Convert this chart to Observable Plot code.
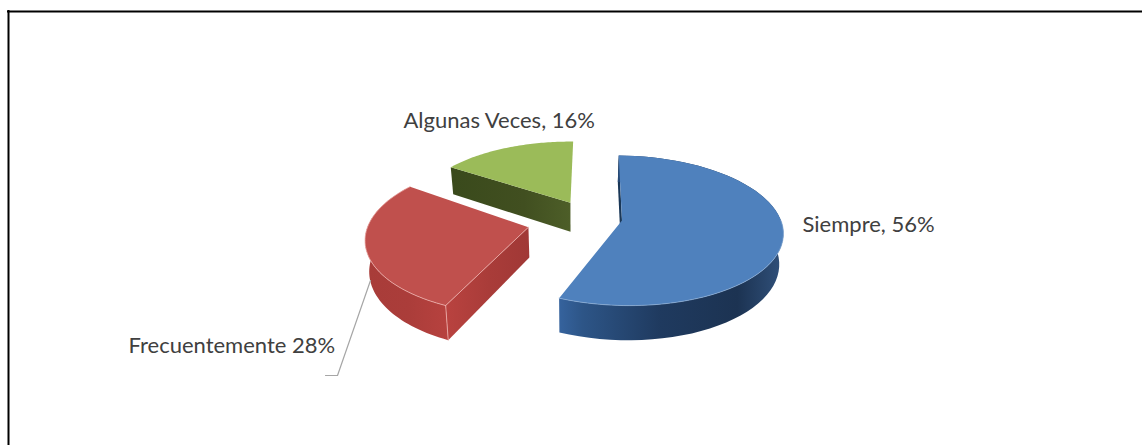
<!DOCTYPE html>
<html>
<head>
<meta charset="utf-8">
<script src="https://cdn.jsdelivr.net/npm/d3@7"></script>
<script src="https://cdn.jsdelivr.net/npm/@observablehq/plot@0.6"></script>
<style>html,body{margin:0;padding:0;background:#fff}svg{display:block}</style>
</head>
<body>
<div id="chart"></div>
<script>
const categories = ["Siempre", "Frecuentemente", "Algunas Veces"];
const shares = [56, 28, 16];
const labels = ["Siempre, 56%", "Frecuentemente 28%", "Algunas Veces, 16%"];
const topColors = ["#4f81bd", "#c0504d", "#9bbb59"];
const rimColors = ["#8fb0d8", "#eeb0ac", "#a9c46f"];

// Scene set-up of the tilted, exploded pie
const center = {x: 573, y: 220};
const radius = 159, tilt = 73.7, persp = 0.134, depth = 30;
const explode = [[0.305, 0.0], [-0.28, 0.09], [-0.02, -0.25]];
const turn = [1, 3, 1].map(d => d * Math.PI / 180);

const project = (X, Z, down = 0) => {
  const s = 1 / (1 - persp * Z);
  const f = 1 - 0.02 * down;
  return {
    x: center.x + X * radius * s * f,
    y: center.y + Z * tilt * s + down * depth * s
  };
};
const total = d3.sum(shares);
let acc = 0;
const slices = shares.map((v, i) => {
  const a0 = acc / total * 2 * Math.PI + turn[i]; acc += v;
  const a1 = acc / total * 2 * Math.PI + turn[i];
  return {i, a0, a1, ox: explode[i][0], oz: explode[i][1]};
});
const rimPoint = (s, a, down = 0) => project(s.ox + Math.sin(a), s.oz - Math.cos(a), down);
const apex = (s, down = 0) => project(s.ox, s.oz, down);
const arc = (s, a0, a1, down = 0) => d3.range(0, 61).map(t => rimPoint(s, a0 + (a1 - a0) * t / 60, down));

const topFace = s => [apex(s), ...arc(s, s.a0, s.a1), apex(s)];
const outerWall = s => [...arc(s, s.a0, s.a1), ...arc(s, s.a1, s.a0, 1)];
const radialWall = (s, a) => [apex(s), rimPoint(s, a), rimPoint(s, a, 1), apex(s, 1)];

const [blue, red, green] = slices;

const gradients = {
  blueWall: [[560, 781], [[0, "#35629c"], [0.1, "#2d5587"], [0.45, "#1f3a5f"], [0.8, "#1c3352"], [1, "#30507a"]]],
  blueEdge: [[610, 625], [[0, "#17324f"], [1, "#1b3a5c"]]],
  redWall: [[366, 450], [[0, "#a83c39"], [0.5, "#ab3d3a"], [1, "#b8423f"]]],
  redEdge: [[448, 530], [[0, "#b8423f"], [0.5, "#a93c39"], [1, "#a03836"]]],
  greenEdge: [[453, 570], [[0, "#3a4a1c"], [0.6, "#414f20"], [1, "#4d5e28"]]]
};
const defs = () => {
  const d = d3.create("svg:defs");
  Object.entries(gradients).forEach(([id, [[x1, x2], stops]]) => {
    const g = d.append("linearGradient").attr("id", id)
      .attr("gradientUnits", "userSpaceOnUse")
      .attr("x1", x1).attr("x2", x2).attr("y1", 0).attr("y2", 0);
    stops.forEach(([o, c]) => g.append("stop").attr("offset", o).attr("stop-color", c));
  });
  return d.node();
};
const poly = (pts, fill, extra = {}) => Plot.line(pts, {x: "x", y: "y", fill, stroke: "none", curve: "linear", ...extra});

const labelAnchors = [
  {x: 802, y: 224}, {x: 128, y: 345}, {x: 403, y: 120}
];
const leader = [{x: 370, y: 280}, {x: 337, y: 375}, {x: 325, y: 375}];

const chart = Plot.plot({
  width: 1142, height: 445,
  margin: 0,
  x: {domain: [0, 1142], range: [0, 1142], axis: null},
  y: {domain: [0, 445], range: [0, 445], axis: null},
  style: {background: "#fff"},
  marks: [
    defs,
    // frame
    Plot.ruleY([11], {x1: 7, x2: 1142, stroke: "#000", strokeWidth: 2}),
    Plot.ruleX([8], {y1: 10, y2: 445, stroke: "#000", strokeWidth: 2}),
    // green slice
    poly(radialWall(green, green.a0), "url(#greenEdge)"),
    poly(topFace(green), topColors[2]),
    // red slice
    poly(outerWall(red), "url(#redWall)"),
    poly(radialWall(red, red.a0), "url(#redEdge)"),
    poly(topFace(red), topColors[1]),
    Plot.line(arc(red, red.a0, red.a1), {x: "x", y: "y", stroke: rimColors[1], strokeWidth: 1, strokeOpacity: 0.8}),
    Plot.line([rimPoint(red, red.a0), apex(red)], {x: "x", y: "y", stroke: rimColors[1], strokeWidth: 1, strokeOpacity: 0.8}),
    Plot.line([rimPoint(red, red.a0), rimPoint(red, red.a0, 1)], {x: "x", y: "y", stroke: rimColors[1], strokeWidth: 1, strokeOpacity: 0.8}),
    // blue slice
    poly(radialWall(blue, blue.a0), "url(#blueEdge)"),
    poly(outerWall(blue), "url(#blueWall)"),
    poly(topFace(blue), topColors[0]),
    Plot.line(arc(blue, Math.PI / 2, blue.a1), {x: "x", y: "y", stroke: rimColors[0], strokeWidth: 1, strokeOpacity: 0.7}),
    // leader
    Plot.line(leader, {x: "x", y: "y", stroke: "#a6a6a6", strokeWidth: 1.2}),
    // labels
    Plot.text(labels, {
      x: (d, i) => labelAnchors[i].x, y: (d, i) => labelAnchors[i].y, text: d => d,
      textAnchor: "start", fontSize: 22, fontFamily: "Lato", fill: "#404040"
    })
  ]
});
document.getElementById("chart").append(chart);
</script>
</body>
</html>
